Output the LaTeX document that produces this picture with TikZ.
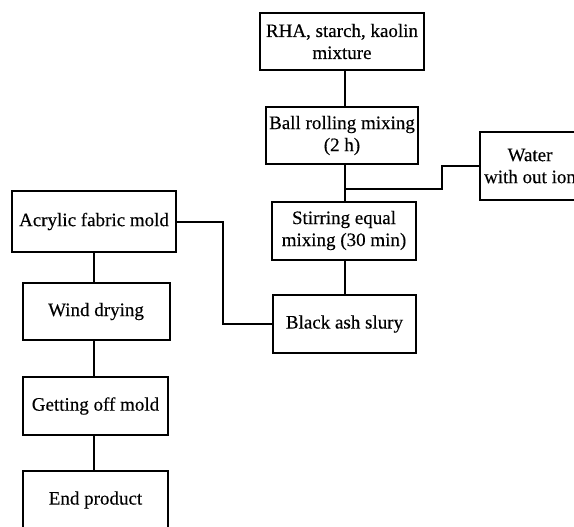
\documentclass[tikz,border=0pt]{standalone}
\usepackage{fontspec}
\setmainfont{Liberation Serif}
\newfontfamily\heavyserif{Liberation Serif}[FakeBold=0.35]
\begin{document}
\begin{tikzpicture}[x=1pt,y=-1pt,
  box/.style={draw=black,line width=2pt,align=center,inner sep=0pt,
    font=\heavyserif\fontsize{19}{22}\selectfont},
  link/.style={draw=black,line width=2pt}]
\useasboundingbox (0,0) rectangle (574,527);
\clip (0,0) rectangle (574,527);
\node[box,minimum width=164,minimum height=57] (rha) at (342,41.5) {RHA, starch, kaolin\\mixture};
\node[box,minimum width=152,minimum height=57] (ball) at (342,135.5) {Ball rolling mixing\\(2 h)};
\node[box,minimum width=144,minimum height=58] (stir) at (344,230.5) {Stirring equal\\mixing (30 min)};
\node[box,minimum width=143,minimum height=58] (black) at (344.5,324) {Black ash slury};
\node[box,minimum width=100,minimum height=68] (water) at (530,166) {Water\\with out ion};
\node[box,minimum width=164,minimum height=61] (acr) at (94,221.5) {Acrylic fabric mold};
\node[box,minimum width=147,minimum height=57] (wind) at (96,311.5) {Wind drying};
\node[box,minimum width=145,minimum height=58] (get) at (95.5,406) {Getting off mold};
\node[box,minimum width=145,minimum height=58] (endp) at (95.5,500) {End product};
\coordinate (j) at (345,189);
\draw[link] (rha.south -| 345,0) -- (ball.north -| 345,0);
\draw[link] (ball.south -| 345,0) -- (stir.north -| 345,0);
\draw[link] (water.west) -- ++(-37,0) |- (j);
\draw[link] (stir.south -| 345,0) -- (black.north -| 345,0);
\draw[link] (acr.east) -- (223,221.5) |- (black.west);
\draw[link] (acr.south -| 94,0) -- (wind.north -| 94,0);
\draw[link] (wind.south -| 94,0) -- (get.north -| 94,0);
\draw[link] (get.south -| 94,0) -- (endp.north -| 94,0);
\end{tikzpicture}
\end{document}
